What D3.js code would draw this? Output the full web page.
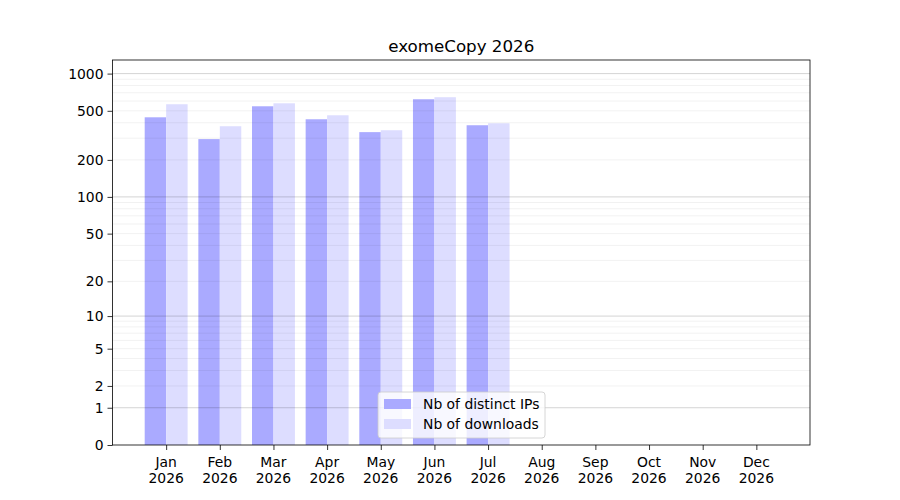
<!DOCTYPE html>
<html><head><meta charset="utf-8">
<script src="https://cdn.jsdelivr.net/npm/d3@7"></script>
<style>body{margin:0;background:#fff}svg{font-family:"DejaVu Sans",sans-serif}</style>
</head><body>
<svg id="c" width="900" height="500"></svg>
<script>
const months = ["Jan","Feb","Mar","Apr","May","Jun","Jul","Aug","Sep","Oct","Nov","Dec"];
const year = "2026";
const distinctIPs = [443, 295, 544, 427, 336, 620, 382];
const downloads   = [565, 375, 575, 460, 348, 644, 396];
const yTicks = [0, 1, 2, 5, 10, 20, 50, 100, 200, 500, 1000];
const majorGrid = [1, 10, 100, 1000];
const minorGrid = [2,3,4,5,6,7,8,9,20,30,40,50,60,70,80,90,200,300,400,500,600,700,800,900];
const title = "exomeCopy 2026";
const seriesNames = ["Nb of distinct IPs", "Nb of downloads"];
const colors = ["#aaaaff", "#ddddff"];

const svg = d3.select("#c");
const L = 112.5, R = 810, T = 60, B = 445;
const x = d3.scaleLinear().domain([-1, 12]).range([L, R]);
const ymax = d3.max(downloads.concat(distinctIPs)) * 2;
const y = d3.scaleSymlog().constant(1).domain([0, ymax]).range([B, T]);
const bw = x(0.4) - x(0);

// bars
svg.append("g").selectAll("rect").data(distinctIPs).join("rect")
  .attr("x", (d,i) => x(i - 0.4)).attr("width", bw)
  .attr("y", d => y(d)).attr("height", d => B - y(d))
  .attr("fill", colors[0]);
svg.append("g").selectAll("rect").data(downloads).join("rect")
  .attr("x", (d,i) => x(i)).attr("width", bw)
  .attr("y", d => y(d)).attr("height", d => B - y(d))
  .attr("fill", colors[1]);

// grid
svg.append("g").selectAll("line").data(minorGrid).join("line")
  .attr("x1", L).attr("x2", R).attr("y1", d => y(d)).attr("y2", d => y(d))
  .attr("stroke", "#000").attr("stroke-opacity", 0.07).attr("stroke-width", 0.8);
svg.append("g").selectAll("line").data(majorGrid).join("line")
  .attr("x1", L).attr("x2", R).attr("y1", d => y(d)).attr("y2", d => y(d))
  .attr("stroke", "#000").attr("stroke-opacity", 0.22).attr("stroke-width", 0.8);

// axes
const yAxis = d3.axisLeft(y).tickValues(yTicks).tickFormat(d3.format("d")).tickSize(5).tickPadding(4);
const gy = svg.append("g").attr("transform", `translate(${L},0)`).call(yAxis);
gy.select(".domain").remove();
gy.selectAll("text").attr("font-size", 13.9).attr("fill", "#000").attr("font-family", "DejaVu Sans");
gy.selectAll("line").attr("stroke", "#000").attr("stroke-width", 0.8);

const xAxis = d3.axisBottom(x).tickValues(d3.range(12)).tickFormat(() => "").tickSize(5);
const gx = svg.append("g").attr("transform", `translate(0,${B})`).call(xAxis);
gx.select(".domain").remove();
gx.selectAll("line").attr("stroke", "#000").attr("stroke-width", 0.8);
const lbl = svg.append("g").selectAll("text").data(months).join("text")
  .attr("x", (d,i) => x(i)).attr("text-anchor", "middle")
  .attr("font-size", 13.9).attr("fill", "#000");
lbl.append("tspan").attr("x", (d,i) => x(i)).attr("y", 467).text(d => d);
lbl.append("tspan").attr("x", (d,i) => x(i)).attr("y", 483).text(year);

// frame
svg.append("rect").attr("x", L).attr("y", T).attr("width", R - L).attr("height", B - T)
  .attr("fill", "none").attr("stroke", "#000").attr("stroke-width", 0.8);

// title
svg.append("text").attr("x", (L + R) / 2).attr("y", 52).attr("text-anchor", "middle")
  .attr("font-size", 16.7).attr("fill", "#000").text(title);

// legend
const lg = svg.append("g").attr("transform", "translate(378,392)");
lg.append("rect").attr("width", 167).attr("height", 46).attr("rx", 3)
  .attr("fill", "#fff").attr("fill-opacity", 0.8).attr("stroke", "#ccc").attr("stroke-width", 0.8);
seriesNames.forEach((n, i) => {
  lg.append("rect").attr("x", 6).attr("y", 7 + i * 20).attr("width", 27).attr("height", 10).attr("fill", colors[i]);
  lg.append("text").attr("x", 45).attr("y", 17 + i * 20).attr("font-size", 13.9).attr("fill", "#000").text(n);
});
</script>
</body></html>
